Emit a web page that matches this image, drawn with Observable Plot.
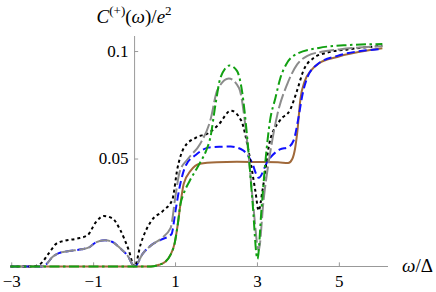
<!DOCTYPE html>
<html><head><meta charset="utf-8">
<script src="https://cdn.jsdelivr.net/npm/d3@7"></script>
<script src="https://cdn.jsdelivr.net/npm/@observablehq/plot@0.6"></script>
<style>
body{margin:0;background:#fff}#chart{width:436px;height:292px}
</style>
</head><body><div id="chart"></div>
<script>
const xTicks = [-3, -1, 1, 3, 5];
const yTicks = [0.05, 0.1];

const blackX = [-3.03, -2.5, -2.3, -2.1, -1.9, -1.7, -1.4, -1.15, -0.95, -0.75, -0.55, -0.35, -0.15, 0, 0.15, 0.4, 0.7, 0.92, 1.05, 1.2, 1.5, 1.8, 2.05, 2.35, 2.6, 2.8, 2.95, 3.03, 3.12, 3.3, 3.55, 3.8, 3.97, 4.12, 4.37, 4.7, 5.2, 6.05];
const blackY = [0, 0, 0.0012, 0.006, 0.0108, 0.012, 0.013, 0.0145, 0.0205, 0.0235, 0.0225, 0.017, 0.008, 0, 0.0105, 0.021, 0.026, 0.031, 0.046, 0.055, 0.06, 0.062, 0.066, 0.0725, 0.068, 0.052, 0.035, 0.026, 0.035, 0.058, 0.068, 0.073, 0.082, 0.091, 0.097, 0.0995, 0.101, 0.1027];

const grayX = [-3.03, -2.3, -2.15, -2.0, -1.85, -1.6, -1.3, -1.1, -0.95, -0.72, -0.55, -0.35, -0.17, 0, 0.2, 0.45, 0.65, 0.88, 1.0, 1.1, 1.3, 1.6, 1.85, 2.02, 2.3, 2.55, 2.75, 2.9, 3.03, 3.15, 3.32, 3.49, 3.73, 3.97, 4.22, 4.6, 5.0, 6.05];
const grayY = [0, 0, 0.0012, 0.0045, 0.0062, 0.0072, 0.008, 0.009, 0.0112, 0.0122, 0.0115, 0.0085, 0.005, 0, 0.006, 0.0105, 0.013, 0.018, 0.033, 0.044, 0.05, 0.057, 0.068, 0.082, 0.0875, 0.083, 0.058, 0.028, 0.0075, 0.031, 0.054, 0.071, 0.085, 0.094, 0.098, 0.1, 0.101, 0.1025];

const blueX = [-3.03, -2.3, -2.15, -2.0, -1.85, -1.6, -1.3, -1.1, -0.95, -0.72, -0.55, -0.35, -0.17, 0, 0.2, 0.45, 0.65, 0.9, 1.0, 1.1, 1.25, 1.5, 1.8, 2.1, 2.35, 2.65, 2.85, 3.03, 3.25, 3.55, 3.75, 3.88, 4.0, 4.1, 4.22, 4.46, 4.95, 6.05];
const blueY = [0, 0, 0.0012, 0.0045, 0.0062, 0.0072, 0.008, 0.009, 0.0112, 0.0122, 0.0115, 0.0085, 0.005, 0, 0.006, 0.0105, 0.0125, 0.015, 0.026, 0.037, 0.047, 0.052, 0.0553, 0.0557, 0.0558, 0.054, 0.049, 0.0413, 0.049, 0.0545, 0.0555, 0.0585, 0.069, 0.08, 0.088, 0.094, 0.098, 0.1012];

const brownX = [-3.03, 0.4, 0.6, 0.75, 0.88, 0.98, 1.05, 1.12, 1.2, 1.37, 1.6, 2.0, 2.5, 3.0, 3.5, 3.75, 3.85, 3.92, 3.97, 4.05, 4.15, 4.3, 4.5, 4.95, 6.05];
const brownY = [0, 0, 0.0008, 0.0022, 0.0055, 0.011, 0.019, 0.029, 0.0385, 0.0446, 0.0478, 0.0485, 0.0487, 0.0486, 0.0485, 0.0481, 0.05, 0.055, 0.062, 0.078, 0.086, 0.091, 0.0945, 0.0975, 0.1015];

const greenX = [-3.03, 0.4, 0.6, 0.75, 0.88, 0.98, 1.05, 1.12, 1.2, 1.35, 1.5, 1.62, 1.75, 1.85, 1.98, 2.1, 2.32, 2.5, 2.62, 2.75, 2.88, 3.0, 3.1, 3.2, 3.3, 3.44, 3.56, 3.7, 3.97, 4.5, 5.2, 6.05];
const greenY = [0, 0, 0.0008, 0.0022, 0.0055, 0.011, 0.019, 0.029, 0.034, 0.04, 0.045, 0.049, 0.054, 0.06, 0.076, 0.088, 0.0935, 0.091, 0.082, 0.06, 0.03, 0.0035, 0.027, 0.05, 0.067, 0.0785, 0.0877, 0.094, 0.099, 0.1017, 0.103, 0.1035];

const series = [
  {x: brownX, y: brownY, color: "#a0693a", dash: null},
  {x: blueX, y: blueY, color: "#1010ff", dash: "8,4"},
  {x: blackX, y: blackY, color: "#000000", dash: "3,3"},
  {x: grayX, y: grayY, color: "#8c8c8c", dash: "15,3.5"},
  {x: greenX, y: greenY, color: "#12a012", dash: "10,3.5,2.5,3.5"}
];

const fmt = d => d < 0 ? "\u2212" + (-d) : String(d);
const axisColor = "#999";
const font = "Times New Roman";

const lineMarks = series.map(s => Plot.line(s.x.map((x, i) => ({x, y: s.y[i]})), {
  x: "x", y: "y", stroke: s.color, strokeWidth: 2, strokeDasharray: s.dash,
  curve: "monotone-x", strokeLinecap: "butt", strokeLinejoin: "round"
}));

const plot = Plot.plot({
  width: 436, height: 292,
  marginLeft: 10, marginRight: 48, marginTop: 36, marginBottom: 26,
  x: {domain: [-3.03, 6.2], axis: null},
  y: {domain: [0, 0.107], axis: null},
  style: {fontFamily: font, background: "white", overflow: "visible"},
  marks: [
    Plot.ruleY([0], {stroke: axisColor}),
    Plot.ruleX([0], {stroke: axisColor}),
    Plot.ruleX(xTicks, {x: d => d, y1: 0, y2: 0.0017, stroke: axisColor}),
    Plot.ruleY(yTicks, {y: d => d, x1: 0, x2: 0.1, stroke: axisColor}),
    Plot.text(xTicks, {x: d => d, y: 0, text: fmt, dy: 15, fontSize: 17, fill: "black", fontFamily: font}),
    Plot.text(yTicks, {x: 0, y: d => d, text: d => String(d), dx: -6, textAnchor: "end", fontSize: 17, fill: "black", fontFamily: font}),
    ...lineMarks
  ]
});

document.getElementById("chart").appendChild(plot);

const svg = d3.select(plot);
const x0 = plot.scale("x").apply(0);
const t = svg.append("text").attr("x", x0).attr("y", 23).attr("text-anchor", "middle")
  .style("font-family", font).attr("font-size", 19).attr("fill", "black");
t.append("tspan").attr("font-style", "italic").text("C");
t.append("tspan").attr("dy", -8).attr("font-size", 13).text("(+)");
t.append("tspan").attr("dy", 8).text("(");
t.append("tspan").attr("font-style", "italic").text("ω");
t.append("tspan").text(")/");
t.append("tspan").attr("font-style", "italic").text("e");
t.append("tspan").attr("dy", -8).attr("font-size", 13).text("2");

const xr = plot.scale("x").apply(6.2);
const y0 = plot.scale("y").apply(0);
const t2 = svg.append("text").attr("x", xr + 14).attr("y", y0 + 6).attr("text-anchor", "start")
  .style("font-family", font).attr("font-size", 19).attr("fill", "black");
t2.append("tspan").attr("font-style", "italic").text("ω");
t2.append("tspan").text("/Δ");
</script>
</body></html>
